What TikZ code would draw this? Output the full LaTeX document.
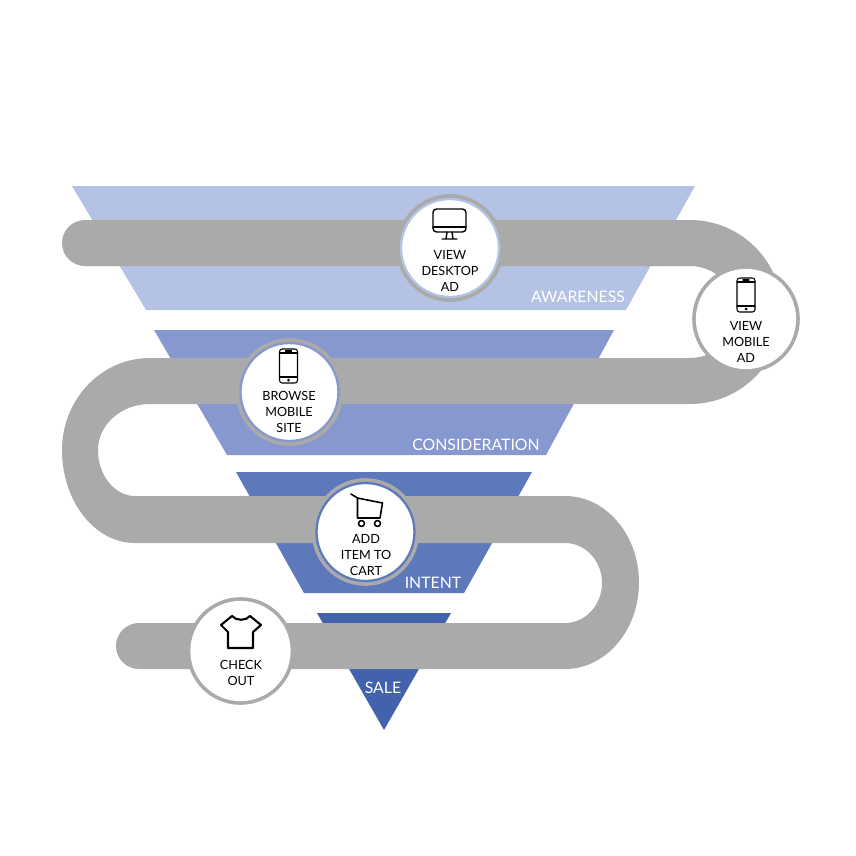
\documentclass[tikz,border=0pt]{standalone}
\usepackage{fontspec}
\setmainfont{Lato}
\definecolor{awarefill}{HTML}{B4C2E3}
\definecolor{considerfill}{HTML}{8698CE}
\definecolor{intentfill}{HTML}{5E78BC}
\definecolor{salefill}{HTML}{4262AC}
\definecolor{bandgray}{HTML}{A9AAA9}
\tikzset{
    stop/.style={circle, fill=white, minimum size=1.96cm, inner sep=0pt, outer sep=0pt, line width=1.3pt,
        preaction={draw=bandgray, line width=5.5pt}},
    stoptext/.style={align=center, inner sep=0pt, text=black,
        font=\fontsize{7.2}{9.1}\selectfont},
    stagetext/.style={inner sep=0pt, text=white, font=\fontsize{9}{11}\selectfont},
    icon/.style={draw=black, line width=0.8pt, line join=round, line cap=round}
}
\begin{document}
\begin{tikzpicture}[x=0.02cm, y=-0.02cm]
\useasboundingbox (0,0) rectangle (856,856);

% funnel
\fill[awarefill] (72,186) -- (695,186) -- (626,310) -- (146,310) -- cycle;
\fill[considerfill] (154,330) -- (614,330) -- (546,455) -- (227,455) -- cycle;
\fill[intentfill] (236,472) -- (532,472) -- (464,593) -- (304,593) -- cycle;
\fill[salefill] (317,613) -- (451,613) -- (384,730) -- cycle;

% band
\fill[bandgray] (85,220) -- (690,220)
    arc[start angle=-90, end angle=90, radius=92] -- (150,404)
    arc[start angle=-90, end angle=-180, x radius=52, y radius=46]
    arc[start angle=180, end angle=90, x radius=37, y radius=46] -- (565,496)
    arc[start angle=-90, end angle=90, x radius=74, y radius=86.5] -- (139,669)
    arc[start angle=90, end angle=270, radius=23] -- (565,623)
    arc[start angle=90, end angle=-90, x radius=37, y radius=40] -- (135,543)
    arc[start angle=90, end angle=180, x radius=73, y radius=93]
    arc[start angle=180, end angle=270, x radius=88, y radius=92] -- (690,358)
    arc[start angle=90, end angle=-90, radius=46] -- (85,266)
    arc[start angle=90, end angle=270, radius=23] -- cycle;

% stops
\node[stop, draw=awarefill] (desktop) at (450,248) {};
\node[stop, draw=white] (mobile) at (746,319) {};
\node[stop, draw=considerfill] (browse) at (289.5,392) {};
\node[stop, draw=intentfill] (cart) at (365.5,532) {};
\node[stop, draw=white] (checkout) at (240.5,651) {};

\node[stoptext] (desktoptext) at (450,271) {VIEW\\DESKTOP\\AD};
\node[stoptext] (mobiletext) at (746,342) {VIEW\\MOBILE\\AD};
\node[stoptext] (browsetext) at (289,412) {BROWSE\\MOBILE\\SITE};
\node[stoptext] (carttext) at (366,555) {ADD\\ITEM TO\\CART};
\node[stoptext] (checkouttext) at (241,673) {CHECK\\OUT};

% stage names
\node[stagetext] (aware) at (578,297) {AWARENESS};
\node[stagetext] (consider) at (476,445) {CONSIDERATION};
\node[stagetext] (intent) at (433,583) {INTENT};
\node[stagetext] (sale) at (383,688) {SALE};

% monitor
\draw[icon, rounded corners=2pt] (433,209) rectangle (466,232);
\draw[icon] (433,227) -- (466,227);
\draw[icon] (447,232) -- (446,239) (452,232) -- (453,239) (442,239) -- (457,239);

% phones
\foreach \px/\py in {737/278, 279.5/349} {
    \draw[icon, line width=0.6pt, rounded corners=1.5pt] (\px,\py) rectangle ++(18,34);
    \draw[icon, line width=0.6pt] (\px,\py+4) -- ++(18,0) (\px,\py+28) -- ++(18,0) (\px+6,\py+2) -- ++(6,0);
    \fill (\px+9,\py+31) circle (1.5);
}

% cart
\draw[icon, line width=0.9pt] (351,494) -- (357.5,498) -- (357.5,518) -- (380,518) -- (382.5,503) -- (357.5,498);
\draw[icon, line width=0.9pt] (361.5,523.5) circle (3) (377.5,523.5) circle (3);

% shirt
\draw[icon, line width=1.2pt] (232,616) .. controls (236,621) and (246,621) .. (250,616)
    -- (261,625) -- (253,632) -- (253,648) -- (228,648) -- (228,632) -- (221,625) -- cycle;

\end{tikzpicture}
\end{document}
